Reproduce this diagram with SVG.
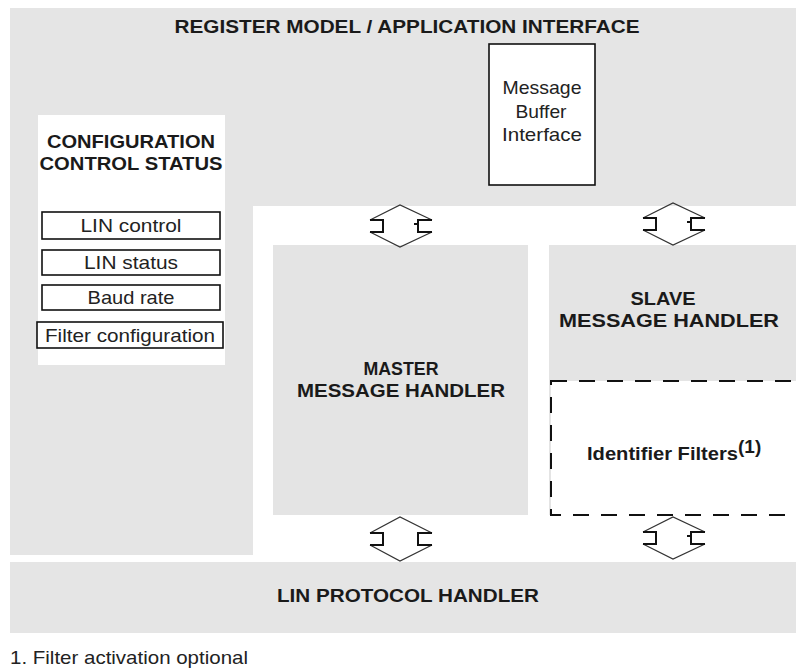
<svg xmlns="http://www.w3.org/2000/svg" width="796" height="671" viewBox="0 0 796 671">
<style>
.bg{fill:#e5e5e5}
.blk{fill:#e4e4e4}
.w{fill:#ffffff}
.box{fill:#ffffff;stroke:#111;stroke-width:1.6}
.b{font-family:"Liberation Sans",Arial,sans-serif;font-weight:bold;font-size:19px;fill:#1a1a1a}
.n{font-family:"Liberation Sans",Arial,sans-serif;font-size:19px;fill:#222}
.dash{fill:#ffffff;stroke:#111;stroke-width:2;stroke-dasharray:16,12}
.conn{fill:none;stroke:#333;stroke-width:1.2}
.brk{fill:none;stroke:#111;stroke-width:2}
</style>
<rect width="796" height="671" fill="#ffffff"/>
<g id="register-model">
<path class="bg" d="M10,8 H796 V206 H253 V555 H10 Z"/>
<text class="b" x="407" y="33" text-anchor="middle" textLength="465" lengthAdjust="spacingAndGlyphs">REGISTER MODEL / APPLICATION INTERFACE</text>
</g>
<g id="config-panel">
<rect class="w" x="38" y="115" width="187" height="250"/>
<text class="b" x="131" y="148" text-anchor="middle" textLength="168" lengthAdjust="spacingAndGlyphs">CONFIGURATION</text>
<text class="b" x="131" y="170" text-anchor="middle" textLength="183" lengthAdjust="spacingAndGlyphs">CONTROL STATUS</text>
</g>
<g id="lin-control">
<rect class="box" x="42" y="212" width="178" height="27"/>
<text class="n" x="131" y="232" text-anchor="middle" textLength="101" lengthAdjust="spacingAndGlyphs">LIN control</text>
</g>
<g id="lin-status">
<rect class="box" x="42" y="250" width="178" height="25"/>
<text class="n" x="131" y="269" text-anchor="middle" textLength="94" lengthAdjust="spacingAndGlyphs">LIN status</text>
</g>
<g id="baud-rate">
<rect class="box" x="42" y="285" width="178" height="25"/>
<text class="n" x="131" y="304" text-anchor="middle" textLength="87" lengthAdjust="spacingAndGlyphs">Baud rate</text>
</g>
<g id="filter-configuration">
<rect class="box" x="37" y="322" width="186" height="26"/>
<text class="n" x="130" y="342" text-anchor="middle" textLength="170" lengthAdjust="spacingAndGlyphs">Filter configuration</text>
</g>
<g id="message-buffer-interface">
<rect class="box" x="489" y="44" width="106" height="141"/>
<text class="n" x="542" y="94" text-anchor="middle" textLength="79" lengthAdjust="spacingAndGlyphs">Message</text>
<text class="n" x="541" y="118" text-anchor="middle" textLength="51" lengthAdjust="spacingAndGlyphs">Buffer</text>
<text class="n" x="542" y="141" text-anchor="middle" textLength="80" lengthAdjust="spacingAndGlyphs">Interface</text>
</g>
<g id="master-message-handler">
<rect class="blk" x="273" y="245" width="255" height="270"/>
<text class="b" x="401" y="375" text-anchor="middle" textLength="75" lengthAdjust="spacingAndGlyphs">MASTER</text>
<text class="b" x="401" y="397" text-anchor="middle" textLength="208" lengthAdjust="spacingAndGlyphs">MESSAGE HANDLER</text>
</g>
<g id="slave-message-handler">
<rect class="blk" x="549" y="245" width="247" height="270"/>
<text class="b" x="663" y="305" text-anchor="middle" textLength="65" lengthAdjust="spacingAndGlyphs">SLAVE</text>
<text class="b" x="669" y="327" text-anchor="middle" textLength="220" lengthAdjust="spacingAndGlyphs">MESSAGE HANDLER</text>
</g>
<g id="identifier-filters">
<rect class="dash" x="551" y="381" width="260" height="134"/>
<text class="b" x="587" y="460" font-size="17" textLength="151" lengthAdjust="spacingAndGlyphs">Identifier Filters</text>
<text class="b" x="738" y="453" font-size="11">(1)</text>
</g>
<g id="lin-protocol-handler">
<rect class="bg" x="10" y="562" width="786" height="71"/>
<text class="b" x="408" y="602" text-anchor="middle" textLength="262" lengthAdjust="spacingAndGlyphs">LIN PROTOCOL HANDLER</text>
</g>
<g id="footnote">
<text class="n" x="10" y="664" font-size="18" textLength="238" lengthAdjust="spacingAndGlyphs">1. Filter activation optional</text>
</g>
<g id="connectors">
<g transform="translate(400,226)">
<path class="conn" d="M-30,-6 L0,-21 L32,-6 M-30,6 L0,21 L32,6"/>
<path class="brk" d="M-30,-6 H-17 V6 H-30 M32,-6 H18 V6 H32 M14,-2 H18"/>
</g>
<g transform="translate(673,224)">
<path class="conn" d="M-30,-6 L0,-21 L32,-6 M-30,6 L0,21 L32,6"/>
<path class="brk" d="M-30,-6 H-17 V6 H-30 M32,-6 H18 V6 H32 M14,-2 H18"/>
</g>
<g transform="translate(400,539)">
<path class="conn" d="M-30,-6 L0,-22 L32,-6 M-30,6 L0,22 L32,6"/>
<path class="brk" d="M-30,-6 H-17 V6 H-30 M32,-6 H18 V6 H32"/>
</g>
<g transform="translate(673,538)">
<path class="conn" d="M-30,-6 L0,-21 L32,-6 M-30,6 L0,21 L32,6"/>
<path class="brk" d="M-30,-6 H-17 V6 H-30 M32,-6 H18 V6 H32 M14,-2 H18"/>
</g>
</g>
</svg>
